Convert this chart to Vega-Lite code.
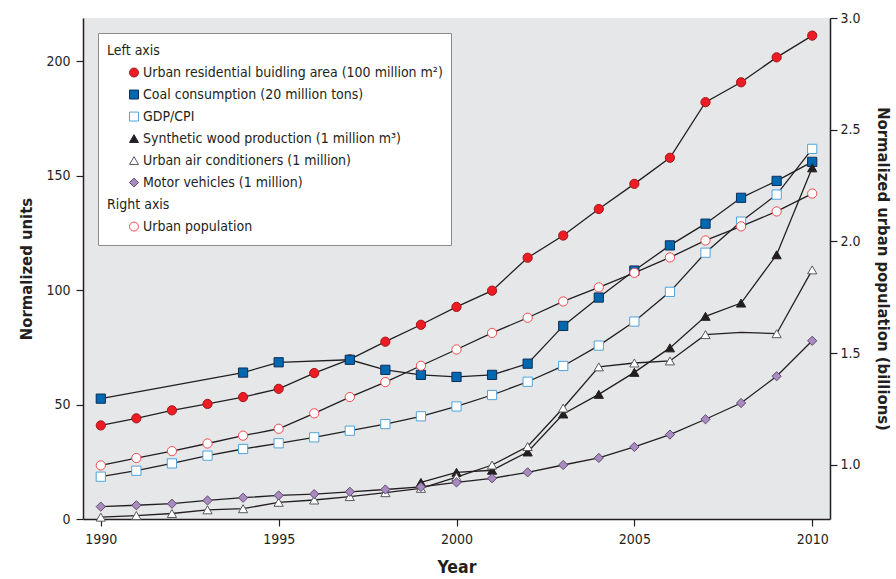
{
  "$schema": "https://vega.github.io/schema/vega-lite/v6.json",
  "width": 747,
  "height": 501,
  "autosize": {"type": "none"},
  "padding": {"left": 83, "top": 18, "right": 66, "bottom": 60},
  "background": "white",
  "config": {
    "font": "Liberation Sans Narrow, Arial Narrow, DejaVu Sans Condensed, sans-serif",
    "view": {"fill": "#e6e7e8", "stroke": null},
    "axis": {
      "domainColor": "#231f20", "domainWidth": 1.5,
      "tickColor": "#231f20", "tickWidth": 1.2, "tickSize": 7,
      "labelFontSize": 14, "labelColor": "#231f20",
      "titleFontSize": 16.5, "titleFontWeight": "bold", "titleColor": "#231f20",
      "grid": false
    },
    "legend": {
      "title": null, "orient": "none", "legendX": 15, "legendY": 15, "padding": 8,
      "fillColor": "white", "strokeColor": "#8c8c8c", "labelFontSize": 14, "labelColor": "#231f20",
      "labelLimit": 400, "symbolSize": 80, "symbolOffset": 21,
      "labelOffset": {"expr": "(datum.index === 0 || datum.index === 7) ? -34 : 2"},
      "clipHeight": 19.1, "rowPadding": 2, "symbolStrokeWidth": 1
    }
  },
  "datasets": {
    "left": [
      {"series": "Urban residential buidling area (100 million m²)", "year": 1990, "value": 40.9, "m": 1},
      {"series": "Urban residential buidling area (100 million m²)", "year": 1991, "value": 44.0, "m": 1},
      {"series": "Urban residential buidling area (100 million m²)", "year": 1992, "value": 47.5, "m": 1},
      {"series": "Urban residential buidling area (100 million m²)", "year": 1993, "value": 50.3, "m": 1},
      {"series": "Urban residential buidling area (100 million m²)", "year": 1994, "value": 53.3, "m": 1},
      {"series": "Urban residential buidling area (100 million m²)", "year": 1995, "value": 56.9, "m": 1},
      {"series": "Urban residential buidling area (100 million m²)", "year": 1996, "value": 63.8, "m": 1},
      {"series": "Urban residential buidling area (100 million m²)", "year": 1997, "value": 69.8, "m": 1},
      {"series": "Urban residential buidling area (100 million m²)", "year": 1998, "value": 77.5, "m": 1},
      {"series": "Urban residential buidling area (100 million m²)", "year": 1999, "value": 84.9, "m": 1},
      {"series": "Urban residential buidling area (100 million m²)", "year": 2000, "value": 92.7, "m": 1},
      {"series": "Urban residential buidling area (100 million m²)", "year": 2001, "value": 99.8, "m": 1},
      {"series": "Urban residential buidling area (100 million m²)", "year": 2002, "value": 114.2, "m": 1},
      {"series": "Urban residential buidling area (100 million m²)", "year": 2003, "value": 123.9, "m": 1},
      {"series": "Urban residential buidling area (100 million m²)", "year": 2004, "value": 135.5, "m": 1},
      {"series": "Urban residential buidling area (100 million m²)", "year": 2005, "value": 146.5, "m": 1},
      {"series": "Urban residential buidling area (100 million m²)", "year": 2006, "value": 157.9, "m": 1},
      {"series": "Urban residential buidling area (100 million m²)", "year": 2007, "value": 182.2, "m": 1},
      {"series": "Urban residential buidling area (100 million m²)", "year": 2008, "value": 190.9, "m": 1},
      {"series": "Urban residential buidling area (100 million m²)", "year": 2009, "value": 201.8, "m": 1},
      {"series": "Urban residential buidling area (100 million m²)", "year": 2010, "value": 211.3, "m": 1},
      {"series": "Coal consumption (20 million tons)", "year": 1990, "value": 52.6, "m": 1},
      {"series": "Coal consumption (20 million tons)", "year": 1994, "value": 64.0, "m": 1},
      {"series": "Coal consumption (20 million tons)", "year": 1995, "value": 68.5, "m": 1},
      {"series": "Coal consumption (20 million tons)", "year": 1997, "value": 69.6, "m": 1},
      {"series": "Coal consumption (20 million tons)", "year": 1998, "value": 65.2, "m": 1},
      {"series": "Coal consumption (20 million tons)", "year": 1999, "value": 63.0, "m": 1},
      {"series": "Coal consumption (20 million tons)", "year": 2000, "value": 62.1, "m": 1},
      {"series": "Coal consumption (20 million tons)", "year": 2001, "value": 63.0, "m": 1},
      {"series": "Coal consumption (20 million tons)", "year": 2002, "value": 67.9, "m": 1},
      {"series": "Coal consumption (20 million tons)", "year": 2003, "value": 84.4, "m": 1},
      {"series": "Coal consumption (20 million tons)", "year": 2004, "value": 96.8, "m": 1},
      {"series": "Coal consumption (20 million tons)", "year": 2005, "value": 108.6, "m": 1},
      {"series": "Coal consumption (20 million tons)", "year": 2006, "value": 119.6, "m": 1},
      {"series": "Coal consumption (20 million tons)", "year": 2007, "value": 129.1, "m": 1},
      {"series": "Coal consumption (20 million tons)", "year": 2008, "value": 140.4, "m": 1},
      {"series": "Coal consumption (20 million tons)", "year": 2009, "value": 147.8, "m": 1},
      {"series": "Coal consumption (20 million tons)", "year": 2010, "value": 156.1, "m": 1},
      {"series": "GDP/CPI", "year": 1990, "value": 18.5, "m": 1},
      {"series": "GDP/CPI", "year": 1991, "value": 21.1, "m": 1},
      {"series": "GDP/CPI", "year": 1992, "value": 24.3, "m": 1},
      {"series": "GDP/CPI", "year": 1993, "value": 27.7, "m": 1},
      {"series": "GDP/CPI", "year": 1994, "value": 30.6, "m": 1},
      {"series": "GDP/CPI", "year": 1995, "value": 33.1, "m": 1},
      {"series": "GDP/CPI", "year": 1996, "value": 35.7, "m": 1},
      {"series": "GDP/CPI", "year": 1997, "value": 38.6, "m": 1},
      {"series": "GDP/CPI", "year": 1998, "value": 41.5, "m": 1},
      {"series": "GDP/CPI", "year": 1999, "value": 44.9, "m": 1},
      {"series": "GDP/CPI", "year": 2000, "value": 49.2, "m": 1},
      {"series": "GDP/CPI", "year": 2001, "value": 54.2, "m": 1},
      {"series": "GDP/CPI", "year": 2002, "value": 60.0, "m": 1},
      {"series": "GDP/CPI", "year": 2003, "value": 66.9, "m": 1},
      {"series": "GDP/CPI", "year": 2004, "value": 75.8, "m": 1},
      {"series": "GDP/CPI", "year": 2005, "value": 86.3, "m": 1},
      {"series": "GDP/CPI", "year": 2006, "value": 99.3, "m": 1},
      {"series": "GDP/CPI", "year": 2007, "value": 116.4, "m": 1},
      {"series": "GDP/CPI", "year": 2008, "value": 130.0, "m": 1},
      {"series": "GDP/CPI", "year": 2009, "value": 141.8, "m": 1},
      {"series": "GDP/CPI", "year": 2010, "value": 161.8, "m": 1},
      {"series": "Synthetic wood production (1 million m³)", "year": 1999, "value": 16.0, "m": 1},
      {"series": "Synthetic wood production (1 million m³)", "year": 2000, "value": 20.4, "m": 1},
      {"series": "Synthetic wood production (1 million m³)", "year": 2001, "value": 21.3, "m": 1},
      {"series": "Synthetic wood production (1 million m³)", "year": 2002, "value": 29.3, "m": 1},
      {"series": "Synthetic wood production (1 million m³)", "year": 2003, "value": 45.9, "m": 1},
      {"series": "Synthetic wood production (1 million m³)", "year": 2004, "value": 54.5, "m": 1},
      {"series": "Synthetic wood production (1 million m³)", "year": 2005, "value": 64.1, "m": 1},
      {"series": "Synthetic wood production (1 million m³)", "year": 2006, "value": 74.8, "m": 1},
      {"series": "Synthetic wood production (1 million m³)", "year": 2007, "value": 88.6, "m": 1},
      {"series": "Synthetic wood production (1 million m³)", "year": 2008, "value": 94.4, "m": 1},
      {"series": "Synthetic wood production (1 million m³)", "year": 2009, "value": 115.5, "m": 1},
      {"series": "Synthetic wood production (1 million m³)", "year": 2010, "value": 153.5, "m": 1},
      {"series": "Urban air conditioners (1 million)", "year": 1990, "value": 0.8, "m": 1},
      {"series": "Urban air conditioners (1 million)", "year": 1991, "value": 1.5, "m": 1},
      {"series": "Urban air conditioners (1 million)", "year": 1992, "value": 2.4, "m": 1},
      {"series": "Urban air conditioners (1 million)", "year": 1993, "value": 4.0, "m": 1},
      {"series": "Urban air conditioners (1 million)", "year": 1994, "value": 4.5, "m": 1},
      {"series": "Urban air conditioners (1 million)", "year": 1995, "value": 7.3, "m": 1},
      {"series": "Urban air conditioners (1 million)", "year": 1996, "value": 8.3, "m": 1},
      {"series": "Urban air conditioners (1 million)", "year": 1997, "value": 9.8, "m": 1},
      {"series": "Urban air conditioners (1 million)", "year": 1998, "value": 11.5, "m": 1},
      {"series": "Urban air conditioners (1 million)", "year": 1999, "value": 13.4, "m": 1},
      {"series": "Urban air conditioners (1 million)", "year": 2000, "value": 18.3, "m": 1},
      {"series": "Urban air conditioners (1 million)", "year": 2001, "value": 23.6, "m": 1},
      {"series": "Urban air conditioners (1 million)", "year": 2002, "value": 31.7, "m": 1},
      {"series": "Urban air conditioners (1 million)", "year": 2003, "value": 48.5, "m": 1},
      {"series": "Urban air conditioners (1 million)", "year": 2004, "value": 66.5, "m": 1},
      {"series": "Urban air conditioners (1 million)", "year": 2005, "value": 68.2, "m": 1},
      {"series": "Urban air conditioners (1 million)", "year": 2006, "value": 69.1, "m": 1},
      {"series": "Urban air conditioners (1 million)", "year": 2007, "value": 80.6, "m": 1},
      {"series": "Urban air conditioners (1 million)", "year": 2008, "value": 81.6, "m": 0},
      {"series": "Urban air conditioners (1 million)", "year": 2009, "value": 81.0, "m": 1},
      {"series": "Urban air conditioners (1 million)", "year": 2010, "value": 108.9, "m": 1},
      {"series": "Motor vehicles (1 million)", "year": 1990, "value": 5.4, "m": 1},
      {"series": "Motor vehicles (1 million)", "year": 1991, "value": 6.0, "m": 1},
      {"series": "Motor vehicles (1 million)", "year": 1992, "value": 6.7, "m": 1},
      {"series": "Motor vehicles (1 million)", "year": 1993, "value": 8.1, "m": 1},
      {"series": "Motor vehicles (1 million)", "year": 1994, "value": 9.3, "m": 1},
      {"series": "Motor vehicles (1 million)", "year": 1995, "value": 10.3, "m": 1},
      {"series": "Motor vehicles (1 million)", "year": 1996, "value": 10.9, "m": 1},
      {"series": "Motor vehicles (1 million)", "year": 1997, "value": 11.9, "m": 1},
      {"series": "Motor vehicles (1 million)", "year": 1998, "value": 12.9, "m": 1},
      {"series": "Motor vehicles (1 million)", "year": 1999, "value": 14.0, "m": 1},
      {"series": "Motor vehicles (1 million)", "year": 2000, "value": 16.0, "m": 1},
      {"series": "Motor vehicles (1 million)", "year": 2001, "value": 17.8, "m": 1},
      {"series": "Motor vehicles (1 million)", "year": 2002, "value": 20.4, "m": 1},
      {"series": "Motor vehicles (1 million)", "year": 2003, "value": 23.6, "m": 1},
      {"series": "Motor vehicles (1 million)", "year": 2004, "value": 26.7, "m": 1},
      {"series": "Motor vehicles (1 million)", "year": 2005, "value": 31.5, "m": 1},
      {"series": "Motor vehicles (1 million)", "year": 2006, "value": 36.9, "m": 1},
      {"series": "Motor vehicles (1 million)", "year": 2007, "value": 43.6, "m": 1},
      {"series": "Motor vehicles (1 million)", "year": 2008, "value": 50.7, "m": 1},
      {"series": "Motor vehicles (1 million)", "year": 2009, "value": 62.4, "m": 1},
      {"series": "Motor vehicles (1 million)", "year": 2010, "value": 77.9, "m": 1}
    ],
    "right": [
      {"series": "Urban population", "year": 1990, "value": 0.997, "m": 1},
      {"series": "Urban population", "year": 1991, "value": 1.030, "m": 1},
      {"series": "Urban population", "year": 1992, "value": 1.061, "m": 1},
      {"series": "Urban population", "year": 1993, "value": 1.095, "m": 1},
      {"series": "Urban population", "year": 1994, "value": 1.130, "m": 1},
      {"series": "Urban population", "year": 1995, "value": 1.161, "m": 1},
      {"series": "Urban population", "year": 1996, "value": 1.230, "m": 1},
      {"series": "Urban population", "year": 1997, "value": 1.303, "m": 1},
      {"series": "Urban population", "year": 1998, "value": 1.370, "m": 1},
      {"series": "Urban population", "year": 1999, "value": 1.443, "m": 1},
      {"series": "Urban population", "year": 2000, "value": 1.516, "m": 1},
      {"series": "Urban population", "year": 2001, "value": 1.590, "m": 1},
      {"series": "Urban population", "year": 2002, "value": 1.658, "m": 1},
      {"series": "Urban population", "year": 2003, "value": 1.731, "m": 1},
      {"series": "Urban population", "year": 2004, "value": 1.794, "m": 1},
      {"series": "Urban population", "year": 2005, "value": 1.859, "m": 1},
      {"series": "Urban population", "year": 2006, "value": 1.928, "m": 1},
      {"series": "Urban population", "year": 2007, "value": 2.004, "m": 1},
      {"series": "Urban population", "year": 2008, "value": 2.067, "m": 1},
      {"series": "Urban population", "year": 2009, "value": 2.134, "m": 1},
      {"series": "Urban population", "year": 2010, "value": 2.214, "m": 1}
    ]
  },
  "layer": [
    {
      "data": {"name": "left"},
      "encoding": {
        "x": {"field": "year", "type": "quantitative",
          "scale": {"domain": [1989.5, 2010.5], "nice": false, "zero": false},
          "axis": {"title": "Year", "titleFontSize": 17.5, "values": [1990, 1995, 2000, 2005, 2010], "format": "d", "labelPadding": 6, "titlePadding": 12}},
        "y": {"field": "value", "type": "quantitative",
          "scale": {"domain": [0, 219], "nice": false},
          "axis": {"orient": "left", "title": "Normalized units", "values": [0, 50, 100, 150, 200], "labelPadding": 6, "titlePadding": 11}}
      },
      "layer": [
        {"mark": {"type": "line", "color": "#231f20", "strokeWidth": 1.3},
         "encoding": {"detail": {"field": "series"}}},
        {"transform": [{"filter": "datum.m == 1"}],
         "mark": {"type": "point", "filled": true, "size": 85, "strokeWidth": 1, "opacity": 1},
         "encoding": {
           "shape": {"field": "series", "type": "nominal",
             "scale": {"domain": ["Left axis", "Urban residential buidling area (100 million m²)", "Coal consumption (20 million tons)", "GDP/CPI", "Synthetic wood production (1 million m³)", "Urban air conditioners (1 million)", "Motor vehicles (1 million)", "Right axis", "Urban population"],
               "range": ["circle", "circle", "square", "square", "triangle-up", "triangle-up", "diamond", "circle", "circle"]}},
           "fill": {"field": "series", "type": "nominal",
             "scale": {"domain": ["Left axis", "Urban residential buidling area (100 million m²)", "Coal consumption (20 million tons)", "GDP/CPI", "Synthetic wood production (1 million m³)", "Urban air conditioners (1 million)", "Motor vehicles (1 million)", "Right axis", "Urban population"],
               "range": ["transparent", "#ed1c24", "#0067b1", "#ffffff", "#231f20", "#ffffff", "#a98bc1", "transparent", "#ffffff"]}},
           "stroke": {"field": "series", "type": "nominal",
             "scale": {"domain": ["Left axis", "Urban residential buidling area (100 million m²)", "Coal consumption (20 million tons)", "GDP/CPI", "Synthetic wood production (1 million m³)", "Urban air conditioners (1 million)", "Motor vehicles (1 million)", "Right axis", "Urban population"],
               "range": ["transparent", "#a3161b", "#0d2f5a", "#4ea4dd", "#231f20", "#58595b", "#5e4b6e", "transparent", "#ef4a4f"]}}
         }}
      ]
    },
    {
      "data": {"name": "right"},
      "encoding": {
        "x": {"field": "year", "type": "quantitative"},
        "y": {"field": "value", "type": "quantitative",
          "scale": {"domain": [0.757, 3.0], "nice": false, "zero": false},
          "axis": {"orient": "right", "title": "Normalized urban population (billions)", "values": [1.0, 1.5, 2.0, 2.5, 3.0], "format": ".1f", "labelPadding": 3, "titlePadding": 14}}
      },
      "layer": [
        {"mark": {"type": "line", "color": "#231f20", "strokeWidth": 1.3},
         "encoding": {"detail": {"field": "series"}}},
        {"mark": {"type": "point", "filled": true, "size": 85, "strokeWidth": 1, "opacity": 1},
         "encoding": {
           "shape": {"field": "series", "type": "nominal"},
           "fill": {"field": "series", "type": "nominal"},
           "stroke": {"field": "series", "type": "nominal"}
         }}
      ]
    }
  ],
  "resolve": {"scale": {"y": "independent"}}
}
